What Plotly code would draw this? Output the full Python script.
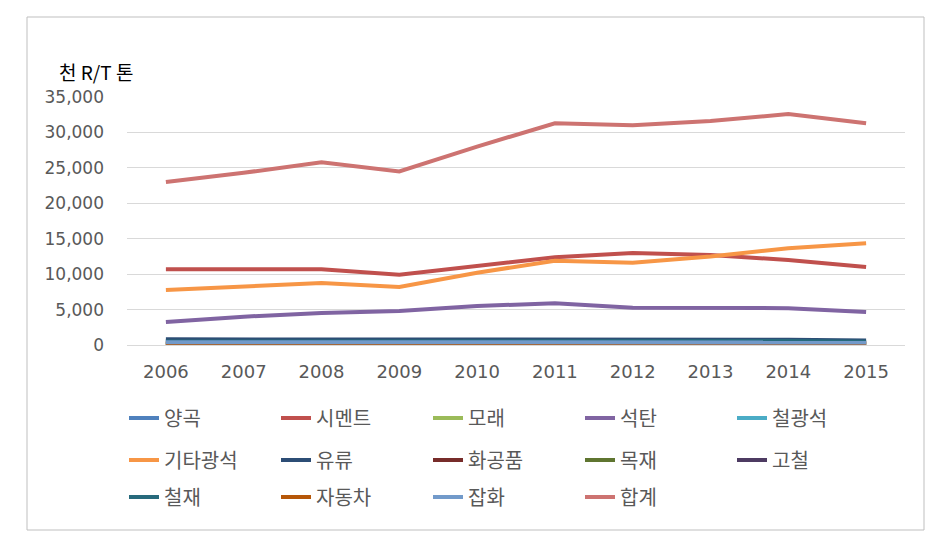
import plotly.graph_objects as go

years = ["2006", "2007", "2008", "2009", "2010", "2011", "2012", "2013", "2014", "2015"]

names = ["양곡", "시멘트", "모래", "석탄", "철광석",
         "기타광석", "유류", "화공품", "목재", "고철",
         "철재", "자동차", "잡화", "합계"]

v_grain = [600, 600, 650, 600, 550, 600, 650, 600, 550, 450]
v_cement = [10700, 10700, 10700, 9900, 11100, 12400, 13000, 12700, 12000, 11000]
v_sand = [100, 100, 100, 100, 100, 100, 100, 100, 100, 100]
v_coal = [3250, 4000, 4500, 4800, 5500, 5900, 5250, 5200, 5200, 4650]
v_ironore = [50, 50, 50, 50, 50, 50, 50, 50, 50, 50]
v_otherore = [7750, 8300, 8750, 8200, 10200, 11900, 11600, 12500, 13650, 14350]
v_oil = [800, 800, 850, 800, 750, 800, 850, 800, 750, 650]
v_chem = [300, 300, 300, 300, 300, 300, 300, 300, 300, 300]
v_wood = [100, 100, 100, 100, 100, 100, 100, 100, 100, 100]
v_scrap = [200, 200, 200, 200, 200, 200, 200, 200, 200, 200]
v_steel = [500, 500, 550, 500, 550, 600, 600, 600, 550, 450]
v_car = [200, 200, 250, 200, 250, 250, 250, 250, 250, 200]
v_general = [400, 400, 450, 400, 450, 450, 450, 450, 450, 350]
v_total = [23000, 24300, 25800, 24500, 28000, 31300, 31000, 31600, 32600, 31300]

series = [v_grain, v_cement, v_sand, v_coal, v_ironore,
          v_otherore, v_oil, v_chem, v_wood, v_scrap,
          v_steel, v_car, v_general, v_total]

colors = ["#4F81BD", "#C0504D", "#9BBB59", "#8064A2", "#4BACC6",
          "#F79646", "#2C4D75", "#772C2A", "#5F7530", "#4D3B62",
          "#276A7C", "#B65708", "#729ACA", "#CD7371"]

legend_ids = ["legend"] * 5 + ["legend2"] * 5 + ["legend3"] * 4

fig = go.Figure()
for i, (n, v, c) in enumerate(zip(names, series, colors)):
    fig.add_trace(go.Scatter(x=years, y=v, name=n, mode="lines",
                             line=dict(color=c, width=4),
                             legend=legend_ids[i]))

W, H = 943, 551
L, R, T, B = 127, 905, 97, 345
pw, ph = R - L, B - T

def px(x):
    return (x - L) / pw

def py(y):
    return (B - y) / ph

font_family = "Noto Sans CJK KR, Noto Sans, sans-serif"
num_family = "DejaVu Sans, sans-serif"
tc = "#595959"

leg_common = dict(orientation="h", entrywidth=107, entrywidthmode="pixels",
                  font=dict(size=20, color=tc, family=font_family),
                  bgcolor="rgba(0,0,0,0)", xanchor="left", yanchor="middle",
                  itemwidth=30, tracegroupgap=0)

fig.update_layout(
    width=W, height=H,
    margin=dict(l=L, r=W - R, t=T, b=H - B, pad=0),
    paper_bgcolor="white", plot_bgcolor="white",
    font=dict(family=font_family, color=tc),
    showlegend=True,
    legend=dict(x=px(124), y=py(418), **leg_common),
    legend2=dict(x=px(124), y=py(460), **leg_common),
    legend3=dict(x=px(124), y=py(497), **leg_common),
    xaxis=dict(type="category", showgrid=False, showline=True, linecolor="#D9D9D9",
               linewidth=1, ticks="", tickfont=dict(size=18, color=tc, family=num_family),
               ticklabelstandoff=10, range=[-0.5, 9.5]),
    yaxis=dict(range=[0, 35000], tickvals=[0, 5000, 10000, 15000, 20000, 25000, 30000, 35000],
               ticktext=["0", "5,000", "10,000", "15,000", "20,000", "25,000", "30,000", "35,000"],
               showgrid=True, gridcolor="#D9D9D9", gridwidth=1, zeroline=False,
               showline=False, ticks="", tickfont=dict(size=17, color=tc, family=num_family),
               ticklabelstandoff=22),
    annotations=[dict(text="천 R/T 톤", x=px(57), y=py(71), xref="paper", yref="paper",
                      xanchor="left", yanchor="middle", showarrow=False,
                      font=dict(size=19, color="#000000", family=font_family))],
    shapes=[dict(type="rect", xref="paper", yref="paper",
                 x0=px(27), x1=px(924), y0=py(530), y1=py(17),
                 line=dict(color="#BFBFBF", width=1), fillcolor="rgba(0,0,0,0)",
                 layer="below")],
)

fig.write_html("out.html")
